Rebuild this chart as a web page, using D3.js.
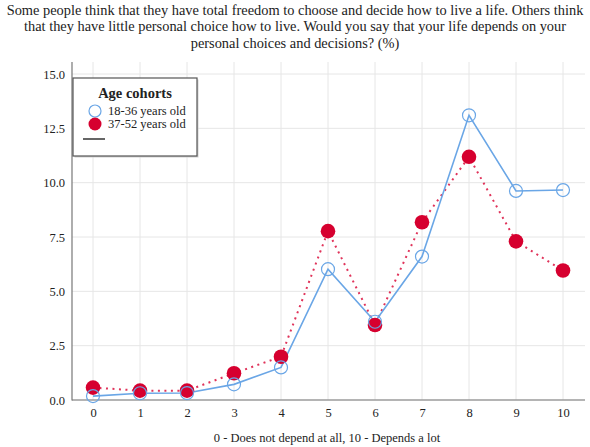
<!DOCTYPE html>
<html lang="en">
<head>
  <meta charset="UTF-8">
  <title>Life depends on personal choices</title>
  <script src="https://cdn.jsdelivr.net/npm/d3@7"></script>
  <style>
    body { margin: 0; background: #fff; }
    svg text { font-family: "Liberation Serif", "Times New Roman", serif; fill: #222; }
  </style>
</head>
<body>
  <script>
    const categories = [0, 1, 2, 3, 4, 5, 6, 7, 8, 9, 10];
    const young = [0.18, 0.31, 0.32, 0.72, 1.5, 6.02, 3.6, 6.6, 13.1, 9.62, 9.66];
    const older = [0.57, 0.43, 0.43, 1.23, 1.99, 7.77, 3.45, 8.18, 11.19, 7.3, 5.96];
    const yTicks = [0, 2.5, 5, 7.5, 10, 12.5, 15];
    const titleLines = [
      "Some people think that they have total freedom to choose and decide how to live a life. Others think",
      "that they have little personal choice how to live. Would you say that your life depends on your",
      "personal choices and decisions? (%)"
    ];
    const xLabel = "0 - Does not depend at all, 10 - Depends a lot";
    const legendTitle = "Age cohorts";
    const seriesNames = ["18-36 years old", "37-52 years old"];

    const w = 590, h = 447;
    const plotL = 72, plotR = 585, plotT = 62, plotB = 400;
    const blue = "#6aa6e6", red = "#d6002f";

    const svg = d3.select("body").append("svg")
      .attr("width", w).attr("height", h);

    const x = d3.scalePoint().domain(categories).range([93, 563]);
    const y = d3.scaleLinear().domain([0, 15]).range([plotB, 74]);

    // title
    svg.append("g").selectAll("text")
      .data(titleLines).enter().append("text")
      .attr("x", w / 2)
      .attr("y", (d, i) => 15 + i * 16.3)
      .attr("text-anchor", "middle")
      .style("font-size", "14.4px")
      .text(d => d);

    // grid
    svg.append("g").selectAll("line")
      .data(yTicks).enter().append("line")
      .attr("x1", plotL).attr("x2", plotR)
      .attr("y1", d => y(d)).attr("y2", d => y(d))
      .attr("stroke", "#e6e6e6");
    svg.append("g").selectAll("line")
      .data(categories).enter().append("line")
      .attr("x1", d => x(d)).attr("x2", d => x(d))
      .attr("y1", plotT).attr("y2", plotB)
      .attr("stroke", "#e6e6e6");

    // axes
    const yAxis = d3.axisLeft(y).tickValues(yTicks).tickFormat(d3.format(".1f")).tickSize(0).tickPadding(7);
    const gy = svg.append("g").attr("transform", `translate(${plotL},0)`).call(yAxis);
    gy.select(".domain").remove();
    gy.selectAll("text").style("font-size", "12.5px").style("font-family", "Liberation Serif, serif");

    const xAxis = d3.axisBottom(x).tickSize(0).tickPadding(8);
    const gx = svg.append("g").attr("transform", `translate(0,${plotB})`).call(xAxis);
    gx.select(".domain").remove();
    gx.selectAll("text").style("font-size", "12.5px").style("font-family", "Liberation Serif, serif");

    svg.append("line").attr("x1", plotL).attr("x2", plotL).attr("y1", plotT).attr("y2", plotB + 0.5)
      .attr("stroke", "#777").attr("stroke-width", 1.2);
    svg.append("line").attr("x1", plotL).attr("x2", plotR).attr("y1", plotB).attr("y2", plotB)
      .attr("stroke", "#777").attr("stroke-width", 1.2);

    svg.append("text")
      .attr("x", 327).attr("y", 442)
      .attr("text-anchor", "middle")
      .style("font-size", "12.5px")
      .text(xLabel);

    // lines
    const line = d3.line().x((d, i) => x(categories[i])).y(d => y(d));
    svg.append("path").datum(older)
      .attr("d", line).attr("fill", "none")
      .attr("stroke", "#e0335a").attr("stroke-width", 2)
      .attr("stroke-dasharray", "2,4.5");
    svg.append("path").datum(young)
      .attr("d", line).attr("fill", "none")
      .attr("stroke", blue).attr("stroke-width", 1.6);

    svg.append("g").selectAll("circle")
      .data(older).enter().append("circle")
      .attr("cx", (d, i) => x(categories[i])).attr("cy", d => y(d))
      .attr("r", 7.3).attr("fill", red);
    svg.append("g").selectAll("circle")
      .data(young).enter().append("circle")
      .attr("cx", (d, i) => x(categories[i])).attr("cy", d => y(d))
      .attr("r", 6.5).attr("fill", "none")
      .attr("stroke", blue).attr("stroke-width", 1.2);

    // legend
    const lg = svg.append("g").attr("transform", "translate(73,78)");
    lg.append("rect").attr("x", 1.5).attr("y", 1.5).attr("width", 124).attr("height", 78)
      .attr("fill", "#cfcfcf");
    lg.append("rect").attr("width", 124).attr("height", 78)
      .attr("fill", "#fff").attr("stroke", "#555").attr("stroke-width", 1.2);
    lg.append("text").attr("x", 62).attr("y", 20).attr("text-anchor", "middle")
      .style("font-size", "14.5px").style("font-weight", "bold").text(legendTitle);
    lg.append("circle").attr("cx", 22).attr("cy", 33).attr("r", 6)
      .attr("fill", "none").attr("stroke", blue).attr("stroke-width", 1.2);
    lg.append("circle").attr("cx", 22).attr("cy", 46).attr("r", 6.5).attr("fill", red);
    lg.selectAll("text.item").data(seriesNames).enter().append("text")
      .attr("class", "item")
      .attr("x", 35).attr("y", (d, i) => 37 + i * 13)
      .style("font-size", "12.5px").text(d => d);
    lg.append("line").attr("x1", 10).attr("x2", 32).attr("y1", 61).attr("y2", 61)
      .attr("stroke", "#333").attr("stroke-width", 1.5);
  </script>
</body>
</html>
